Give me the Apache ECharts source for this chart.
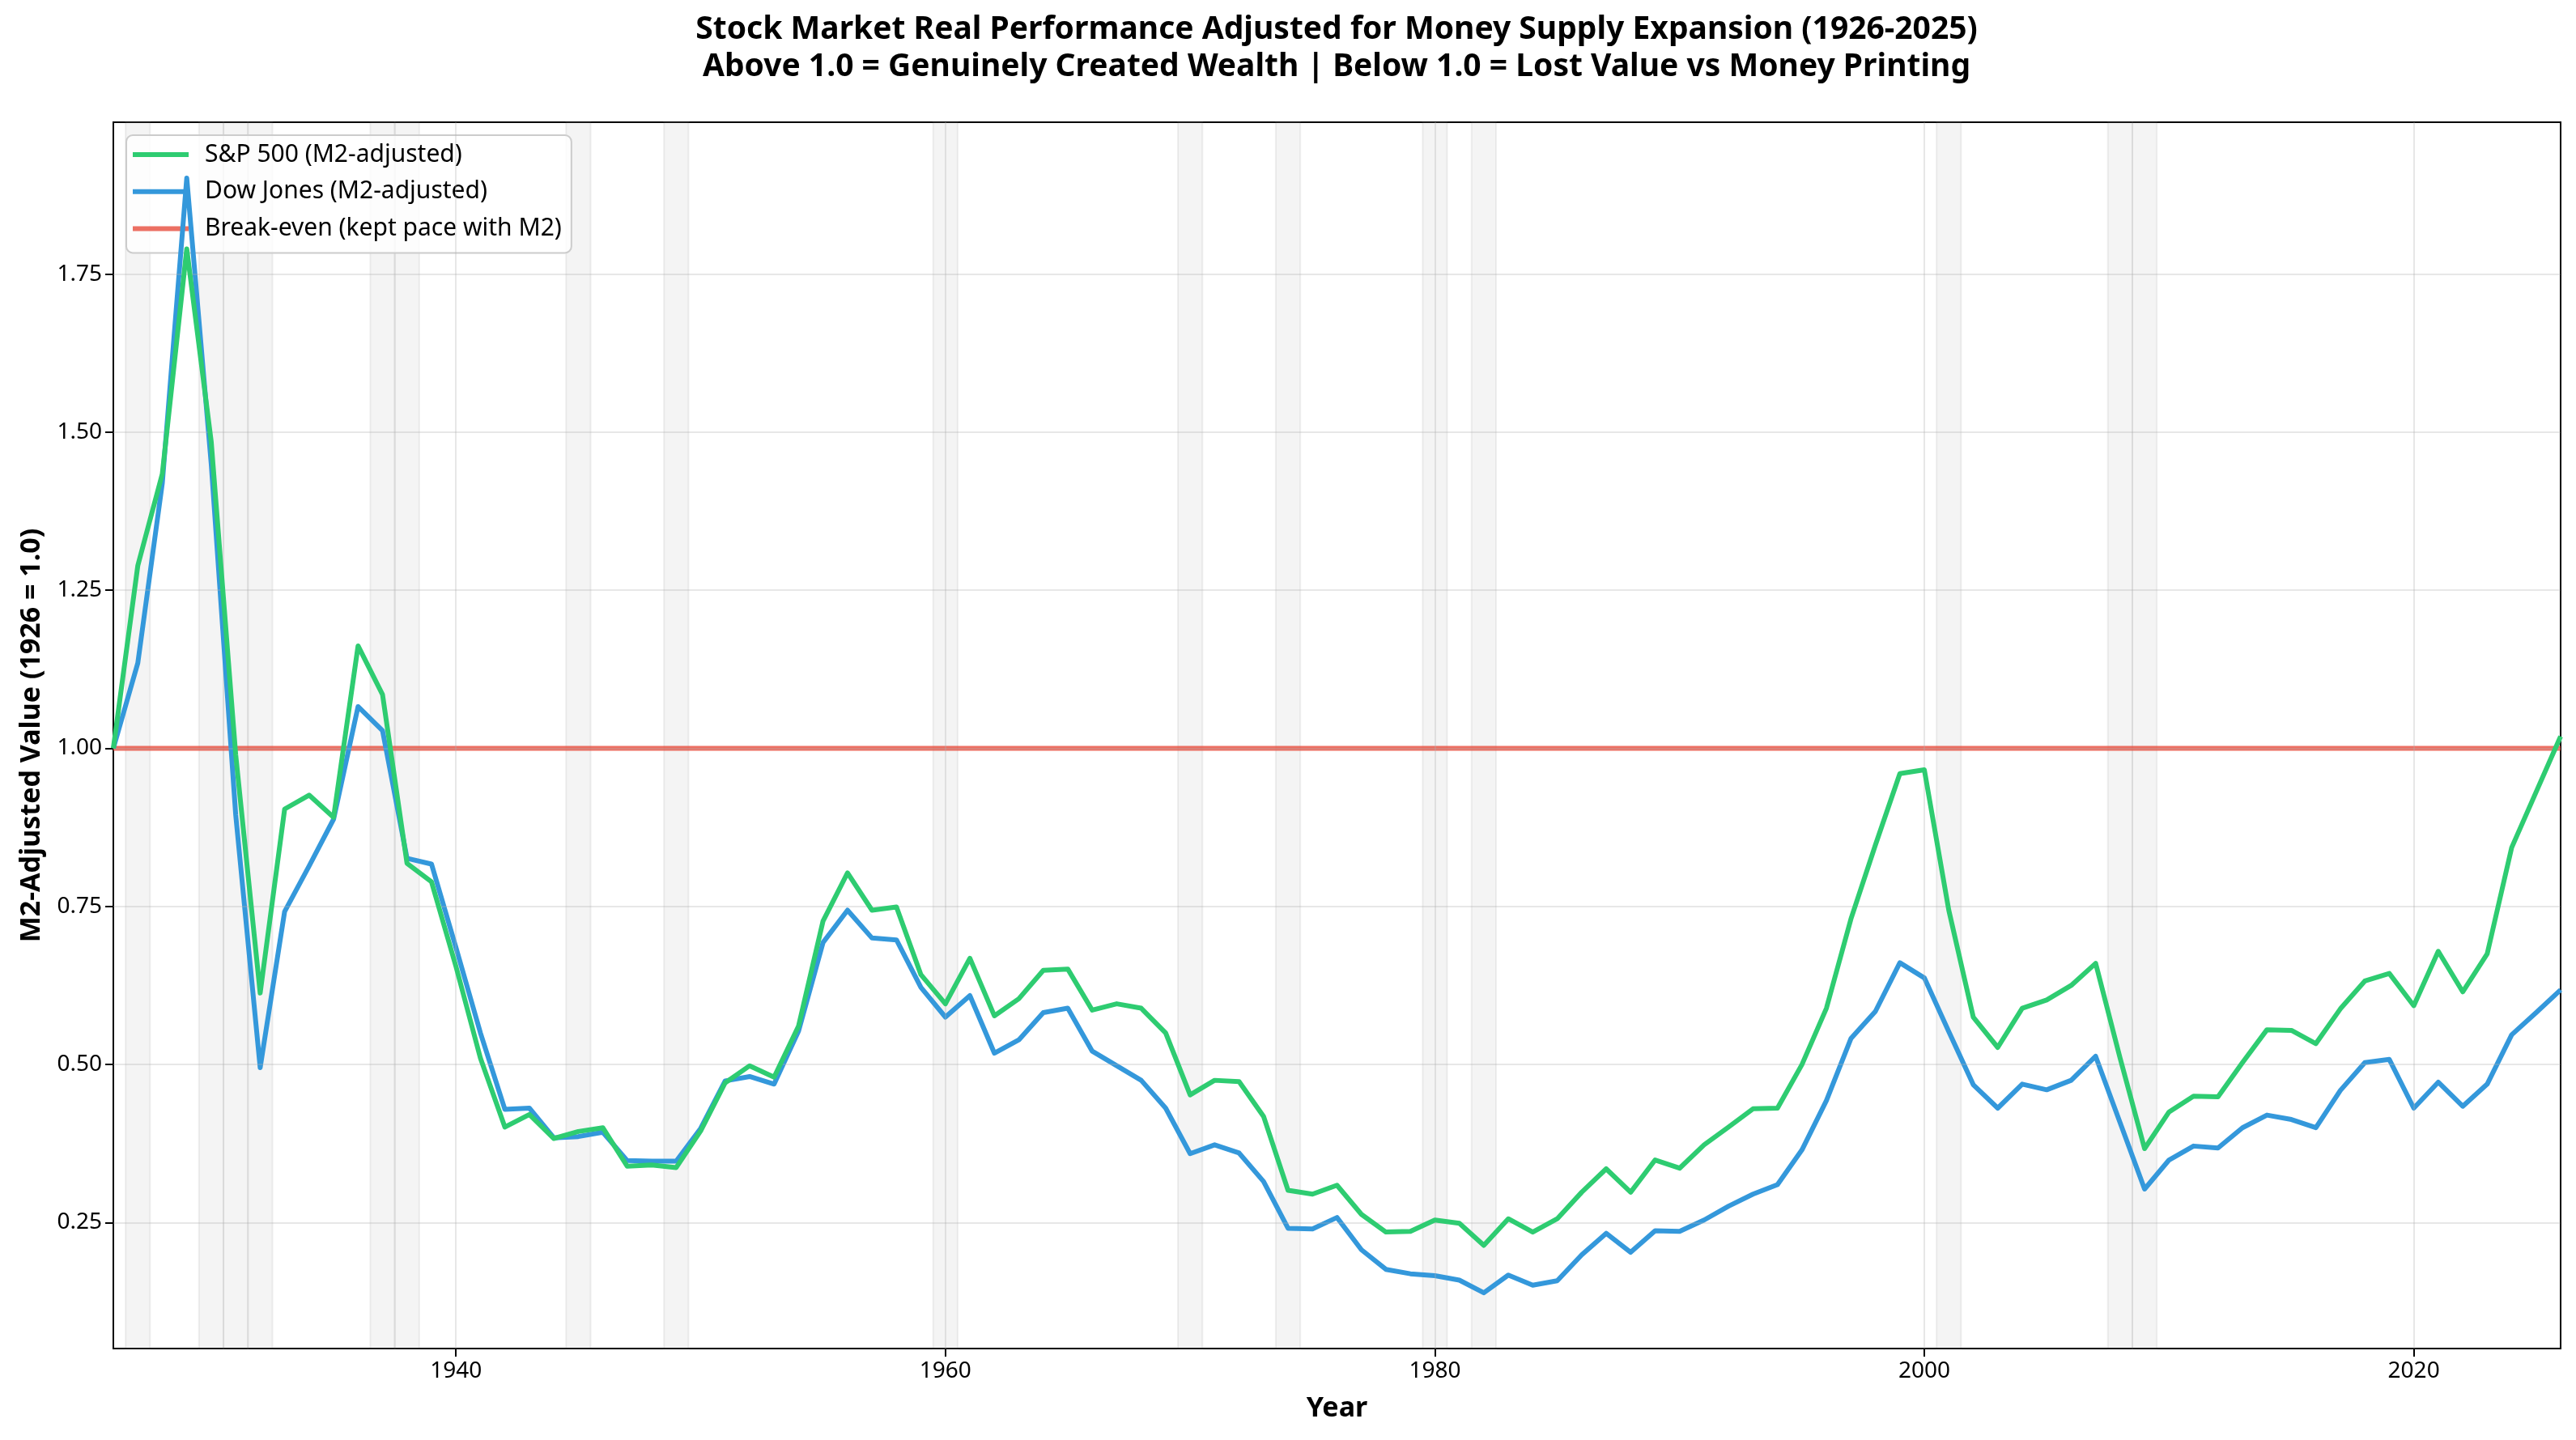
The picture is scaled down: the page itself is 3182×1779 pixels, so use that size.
<!DOCTYPE html>
<html><head><meta charset="utf-8">
<script src="https://cdn.jsdelivr.net/npm/echarts@6/dist/echarts.min.js"></script>
<style>html,body{margin:0;padding:0;background:#fff}#c{width:3182px;height:1779px}</style>
</head><body><div id="c"></div>
<script>
const TITLE_1 = "Stock Market Real Performance Adjusted for Money Supply Expansion (1926-2025)";
const TITLE_2 = "Above 1.0 = Genuinely Created Wealth | Below 1.0 = Lost Value vs Money Printing";
const X_NAME = "Year";
const Y_NAME = "M2-Adjusted Value (1926 = 1.0)";
const SP_NAME = "S&P 500 (M2-adjusted)";
const DOW_NAME = "Dow Jones (M2-adjusted)";
const BE_NAME = "Break-even (kept pace with M2)";

const YEAR_START = 1926, YEAR_END = 2026;
const YEARS = [];
for (let y = YEAR_START; y <= YEAR_END; y++) YEARS.push(y);

const SP500 = [
  1.000, 1.289, 1.434, 1.790, 1.485, 0.990, 0.613, 0.904, 0.926, 0.891,
  1.162, 1.085, 0.818, 0.789, 0.655, 0.510, 0.401, 0.421, 0.383, 0.394,
  0.400, 0.339, 0.341, 0.337, 0.395, 0.471, 0.498, 0.480, 0.561, 0.727,
  0.803, 0.744, 0.749, 0.642, 0.596, 0.668, 0.577, 0.604, 0.649, 0.651,
  0.586, 0.596, 0.589, 0.550, 0.452, 0.475, 0.473, 0.418, 0.301, 0.295,
  0.309, 0.263, 0.235, 0.236, 0.254, 0.249, 0.214, 0.256, 0.235, 0.256,
  0.298, 0.335, 0.298, 0.349, 0.336, 0.373, 0.401, 0.430, 0.431, 0.500,
  0.589, 0.730, 0.847, 0.960, 0.966, 0.744, 0.575, 0.527, 0.589, 0.602,
  0.625, 0.660, 0.510, 0.367, 0.425, 0.450, 0.449, 0.503, 0.555, 0.554,
  0.533, 0.588, 0.632, 0.644, 0.593, 0.679, 0.615, 0.675, 0.843, 0.931,
  1.019
];
const DOW = [
  1.000, 1.135, 1.419, 1.902, 1.450, 0.895, 0.495, 0.742, 0.814, 0.888,
  1.066, 1.028, 0.826, 0.817, 0.685, 0.550, 0.429, 0.431, 0.384, 0.386,
  0.393, 0.348, 0.347, 0.347, 0.399, 0.474, 0.481, 0.469, 0.553, 0.693,
  0.744, 0.700, 0.697, 0.622, 0.575, 0.609, 0.518, 0.539, 0.582, 0.589,
  0.521, 0.498, 0.475, 0.431, 0.359, 0.373, 0.360, 0.315, 0.241, 0.240,
  0.258, 0.207, 0.176, 0.169, 0.166, 0.159, 0.139, 0.167, 0.151, 0.158,
  0.199, 0.233, 0.203, 0.237, 0.236, 0.254, 0.276, 0.295, 0.310, 0.365,
  0.443, 0.541, 0.584, 0.661, 0.637, 0.552, 0.468, 0.431, 0.469, 0.460,
  0.475, 0.513, 0.408, 0.303, 0.349, 0.371, 0.368, 0.400, 0.420, 0.413,
  0.400, 0.459, 0.503, 0.508, 0.431, 0.472, 0.434, 0.469, 0.547, 0.582,
  0.618
];
const BREAK_EVEN = 1.0;
const RECESSION_YEARS = [1927, 1930, 1931, 1932, 1937, 1938, 1945, 1949, 1960, 1970, 1974, 1980, 1982, 2001, 2008, 2009];
const X_TICKS = [1940, 1960, 1980, 2000, 2020];
const Y_TICKS = [0.25, 0.50, 0.75, 1.00, 1.25, 1.50, 1.75];
const Y_MIN = 0.0508, Y_MAX = 1.9902;

const FONT = "'Noto Sans', 'Open Sans', sans-serif";
const GREEN = '#2ecc71', BLUE = '#3498db', RED = 'rgba(231,76,60,0.8)';

const chart = echarts.init(document.getElementById('c'), null, {renderer: 'canvas'});
const pairs = arr => YEARS.map((y, i) => [y, arr[i]]);

chart.setOption({
  animation: false,
  backgroundColor: '#ffffff',
  textStyle: {fontFamily: FONT},
  graphic: [
    {type: 'text', x: 1651, y: 37, style: {text: TITLE_1, fill: '#000', font: "bold 39px " + FONT, textAlign: 'center', textVerticalAlign: 'middle'}},
    {type: 'text', x: 1651, y: 83, style: {text: TITLE_2, fill: '#000', font: "bold 39px " + FONT, textAlign: 'center', textVerticalAlign: 'middle'}}
  ],
  grid: {left: 140, right: 19, top: 151, bottom: 113, show: true, borderColor: '#000', borderWidth: 2, backgroundColor: 'transparent', containLabel: false},
  legend: {
    data: [SP_NAME, DOW_NAME, BE_NAME],
    orient: 'vertical', left: 156, top: 167,
    icon: 'rect', itemWidth: 69, itemHeight: 6, itemGap: 9.7,
    padding: [6, 12, 12, 8],
    backgroundColor: 'rgba(255,255,255,0.8)', borderColor: '#cccccc', borderWidth: 2, borderRadius: 8,
    formatter: n => '{s| }' + n,
    textStyle: {fontFamily: FONT, fontSize: 30, color: '#000', lineHeight: 36, rich: {s: {width: 15}}}
  },
  xAxis: {
    type: 'value', min: YEAR_START, max: YEAR_END,
    splitLine: {show: false},
    axisLine: {show: true, onZero: false, lineStyle: {color: '#000', width: 2}},
    axisTick: {show: true, customValues: X_TICKS, length: 10, lineStyle: {color: '#000', width: 2}},
    axisLabel: {customValues: X_TICKS, formatter: v => String(Math.round(v)), fontSize: 28, color: '#000', margin: 14, fontFamily: FONT},
    name: X_NAME, nameLocation: 'middle', nameGap: 57,
    nameTextStyle: {fontWeight: 'bold', fontSize: 34, color: '#000', fontFamily: FONT}
  },
  yAxis: {
    type: 'value', min: Y_MIN, max: Y_MAX,
    splitLine: {show: false},
    axisLine: {show: true, onZero: false, lineStyle: {color: '#000', width: 2}},
    axisTick: {show: true, customValues: Y_TICKS, length: 10, lineStyle: {color: '#000', width: 2}},
    axisLabel: {customValues: Y_TICKS, formatter: v => v.toFixed(2), fontSize: 28, color: '#000', margin: 14, fontFamily: FONT},
    name: Y_NAME, nameLocation: 'middle', nameGap: 84, nameRotate: 90,
    nameTextStyle: {fontWeight: 'bold', fontSize: 34, color: '#000', fontFamily: FONT}
  },
  series: [
    {
      type: 'line', name: 'recessions', data: [], silent: true, z: 1,
      markArea: {
        silent: true,
        itemStyle: {color: 'rgba(128,128,128,0.09)', borderColor: 'rgba(128,128,128,0.12)', borderWidth: 2},
        data: RECESSION_YEARS.map(y => [{xAxis: y - 0.5}, {xAxis: y + 0.5}])
      }
    },
    {
      type: 'line', name: 'grid', data: [], silent: true, z: 2,
      markLine: {
        silent: true, symbol: ['none', 'none'], label: {show: false},
        lineStyle: {color: 'rgba(176,176,176,0.3)', width: 2, type: 'solid'},
        data: X_TICKS.map(x => ({xAxis: x})).concat(Y_TICKS.map(y => ({yAxis: y})))
      }
    },
    {
      type: 'line', name: BE_NAME, z: 3, color: RED, showSymbol: false, silent: true,
      data: [[YEAR_START, BREAK_EVEN], [YEAR_END, BREAK_EVEN]],
      lineStyle: {color: RED, width: 6}
    },
    {
      type: 'line', name: DOW_NAME, z: 4, color: BLUE, showSymbol: false, silent: true,
      data: pairs(DOW), lineStyle: {color: BLUE, width: 6, join: 'round'}
    },
    {
      type: 'line', name: SP_NAME, z: 5, color: GREEN, showSymbol: false, silent: true,
      data: pairs(SP500), lineStyle: {color: GREEN, width: 6, join: 'round'}
    }
  ]
});
</script>
</body></html>
